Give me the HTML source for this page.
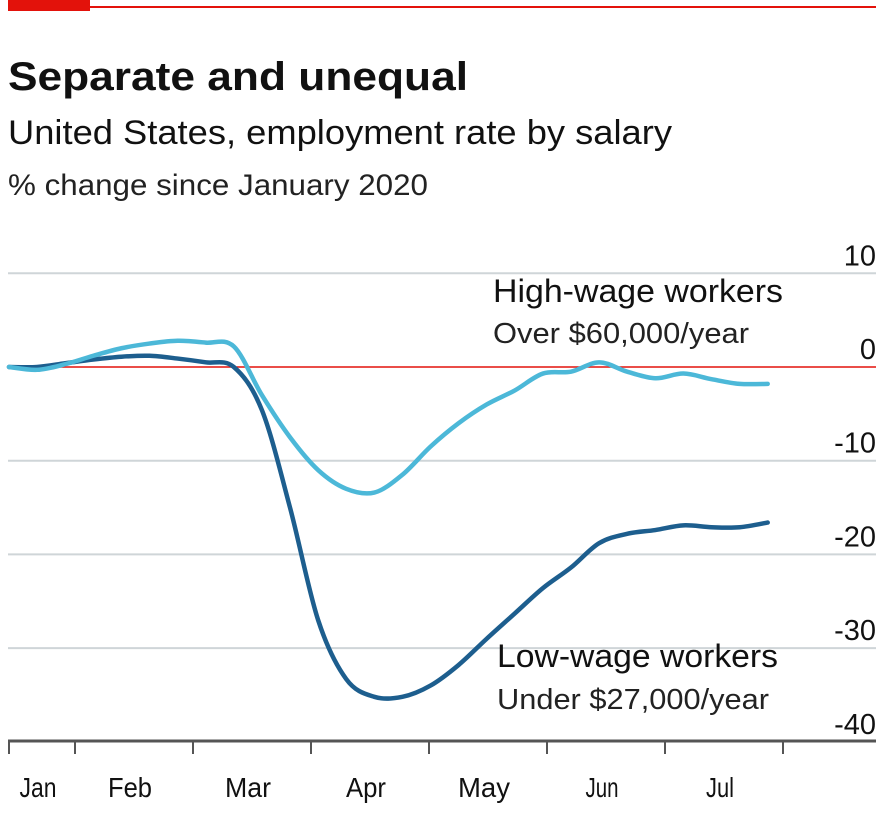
<!DOCTYPE html>
<html><head><meta charset="utf-8"><style>
body{margin:0;background:#fff;width:893px;height:809px;overflow:hidden;font-family:"Liberation Sans",sans-serif}
svg text{font-family:"Liberation Sans",sans-serif}
</style></head><body>
<svg id="chart" width="893" height="809" xmlns="http://www.w3.org/2000/svg">
<rect x="8" y="0" width="82" height="11" fill="#e3120b"/>
<line x1="8" y1="7" x2="876" y2="7" stroke="#e3120b" stroke-width="2"/>
<text x="8" y="90" font-size="40" font-weight="bold" fill="#111" textLength="460" lengthAdjust="spacingAndGlyphs">Separate and unequal</text>
<text x="8" y="144" font-size="34" fill="#111" textLength="664" lengthAdjust="spacingAndGlyphs">United States, employment rate by salary</text>
<text x="8" y="195" font-size="30" fill="#222" textLength="420" lengthAdjust="spacingAndGlyphs">% change since January 2020</text>
<g id="grid"></g><g id="series"></g><g id="axes"></g>
<text x="493" y="302" font-size="32" fill="#111" textLength="290" lengthAdjust="spacingAndGlyphs">High-wage workers</text>
<text x="493" y="343" font-size="29" fill="#222" textLength="256" lengthAdjust="spacingAndGlyphs">Over $60,000/year</text>
<text x="497" y="667" font-size="32" fill="#111" textLength="281" lengthAdjust="spacingAndGlyphs">Low-wage workers</text>
<text x="497" y="709" font-size="29" fill="#222" textLength="272" lengthAdjust="spacingAndGlyphs">Under $27,000/year</text>
</svg>
<script>
const yTicks=[10,0,-10,-20,-30,-40];
const months=["Jan","Feb","Mar","Apr","May","Jun","Jul"];
const weeks=[0,1,2,3,4,5,6,7,8,9,10,11,12,13,14,15,16,17,18,19,20,21,22,23,24,25,26,27];
const highWage=[0,-0.3,0.3,1.2,2.0,2.5,2.8,2.6,2.2,-3,-7.5,-11,-13,-13.4,-11.5,-8.5,-6,-4,-2.5,-0.7,-0.5,0.5,-0.5,-1.2,-0.7,-1.3,-1.8,-1.8];
const lowWage=[0,0,0.4,0.8,1.1,1.2,0.9,0.5,0,-4.6,-15,-27,-33.3,-35.2,-35.2,-34.0,-31.8,-29,-26.3,-23.6,-21.4,-18.8,-17.8,-17.4,-16.9,-17.1,-17.1,-16.6];
const y=v=>367-v*9.37;
const x=w=>9+w*28.1;
const NS="http://www.w3.org/2000/svg";
function mk(t,a,p){const e=document.createElementNS(NS,t);for(const k in a)e.setAttribute(k,a[k]);p.appendChild(e);return e;}
const grid=document.getElementById('grid'),axes=document.getElementById('axes'),ser=document.getElementById('series');
yTicks.forEach(v=>{
  if(v!==0&&v!==-40){const l=mk('line',{x1:8,x2:876,y1:y(v),y2:y(v),stroke:'#cfd5d8','stroke-width':2},grid);
  
  }
  const t=mk('text',{x:876,y:y(v)-8,'font-size':29,'text-anchor':'end',fill:'#111'},axes);
  t.textContent=v;
  
  
});
const z=mk('line',{x1:8,x2:876,y1:y(0),y2:y(0),stroke:'#e3120b','stroke-width':1.5},grid);


const ax=mk('line',{x1:8,x2:876,y1:741,y2:741,stroke:'#555','stroke-width':3},axes);


const mw=118;
for(let i=0;i<=7;i++){
  const tx=i===0?9:75+(i-1)*mw;
  const tk=mk('line',{x1:tx,x2:tx,y1:741,y2:754,stroke:'#555','stroke-width':2},axes);
  
  
}
const labelW={Jan:37,Feb:44,Mar:46,Apr:40,May:52,Jun:33,Jul:28};
months.forEach((m,i)=>{
  const cx=i===0?38:130+(i-1)*mw;
  const t=mk('text',{x:cx,y:797,'font-size':28,'text-anchor':'middle',fill:'#111',textLength:labelW[m]||40,lengthAdjust:'spacingAndGlyphs'},axes);
  t.textContent=m;
  
  
});
function line(vals,col,name){
  const P=vals.map((v,i)=>[x(weeks[i]),y(v)]);
  let d='M'+P[0][0]+','+P[0][1];
  for(let i=0;i<P.length-1;i++){
    const p0=P[Math.max(0,i-1)],p1=P[i],p2=P[i+1],p3=P[Math.min(P.length-1,i+2)];
    const c1=[p1[0]+(p2[0]-p0[0])/6,p1[1]+(p2[1]-p0[1])/6];
    const c2=[p2[0]-(p3[0]-p1[0])/6,p2[1]-(p3[1]-p1[1])/6];
    d+='C'+c1.join(',')+' '+c2.join(',')+' '+p2.join(',');
  }
  const p=mk('path',{d:d,fill:'none',stroke:col,'stroke-width':4.5,'stroke-linejoin':'round','stroke-linecap':'round'},ser);
  
  
}
line(lowWage,'#1d5e8e','low-wage-line');
line(highWage,'#4cb8d8','high-wage-line');
</script>
</body></html>
